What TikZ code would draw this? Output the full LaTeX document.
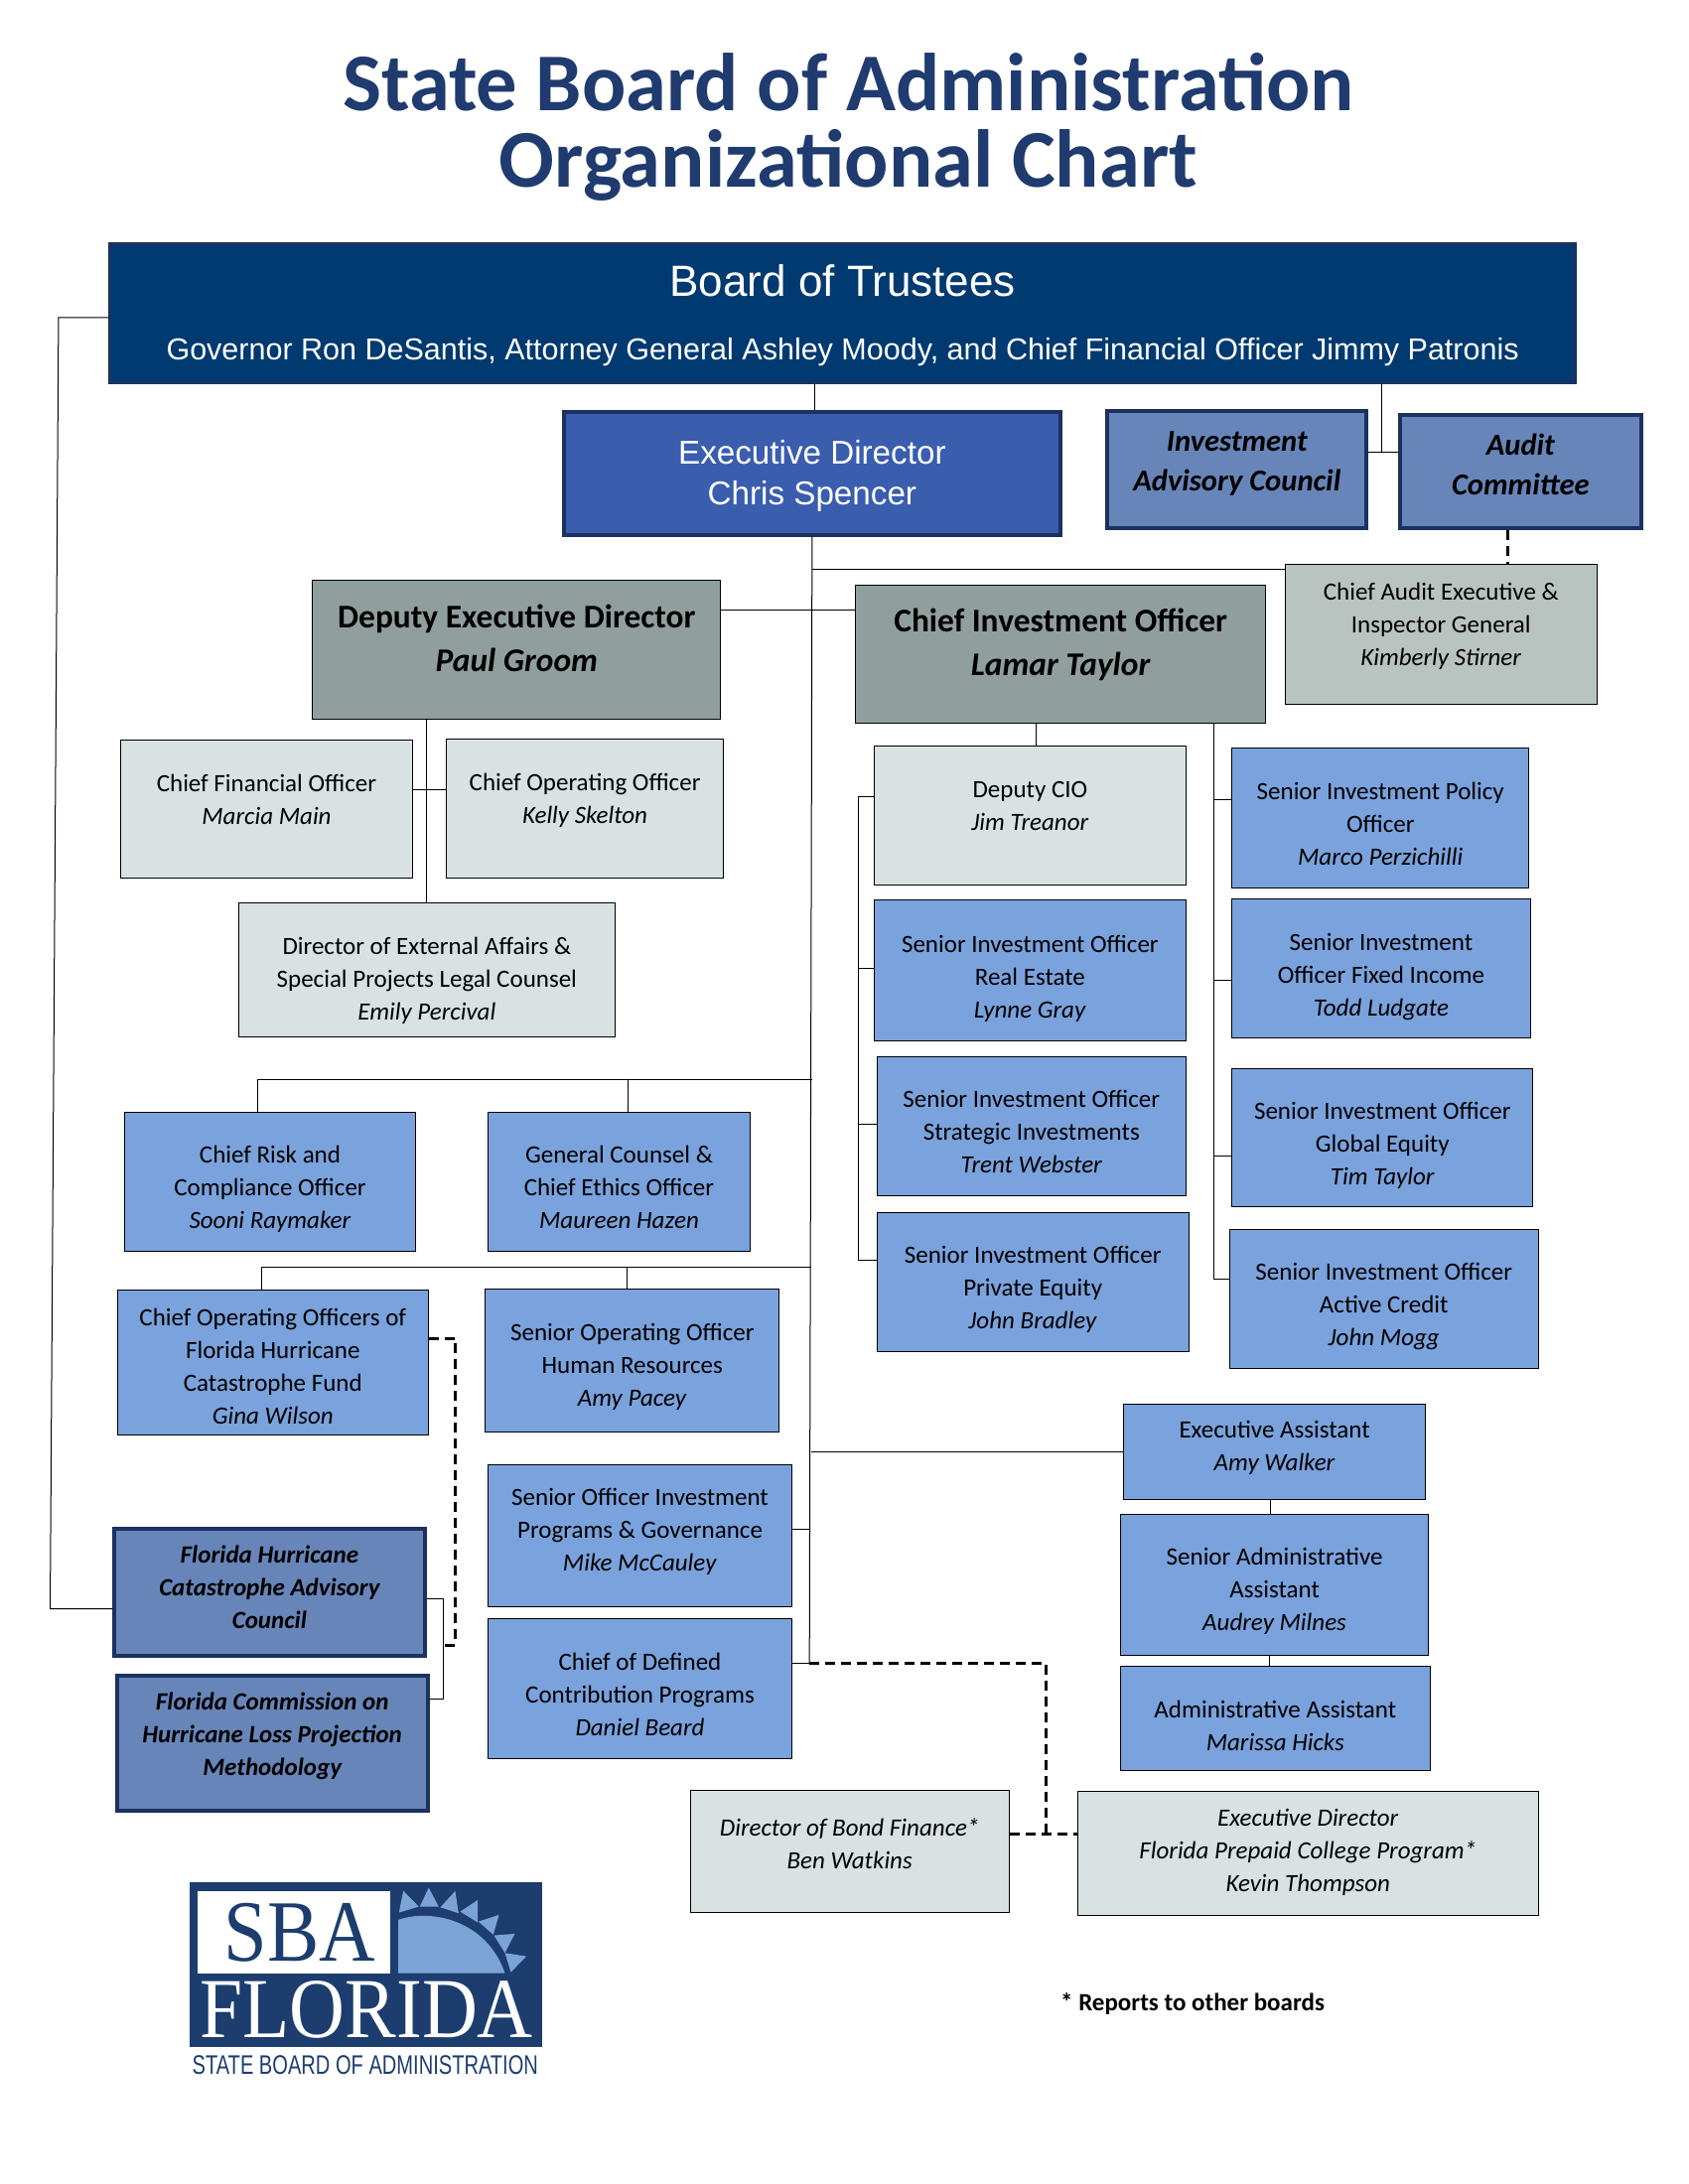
\documentclass[tikz,border=0pt]{standalone}
\usepackage{fontspec}
\usepackage{xcolor}
\setmainfont{Carlito}
\newfontfamily\arialfont{Liberation Sans}
\newfontfamily\logofont{Liberation Serif}
\definecolor{navy}{HTML}{003A70}
\definecolor{edgenavy}{HTML}{1B3160}
\definecolor{titleblue}{HTML}{1F3B6F}
\definecolor{execblue}{HTML}{3A5DAE}
\definecolor{steelblue}{HTML}{6785B8}
\definecolor{skyblue}{HTML}{7AA2DC}
\definecolor{slategrey}{HTML}{909E9E}
\definecolor{sagegrey}{HTML}{B9C3BF}
\definecolor{palegrey}{HTML}{D9E1E2}
\definecolor{logonavy}{HTML}{1C3D6E}
\definecolor{logolight}{HTML}{7BA3D6}
\newcommand{\lines}[2][0]{\raisebox{\dimexpr #1pt-.25em-0.9pt\relax}[0pt][0pt]{\begin{tabular}{@{}c@{}}#2\end{tabular}}}
\tikzset{
  sz/.style 2 args={minimum width=#1*0.7013pt, minimum height=#2*0.7013pt},
  orgbox/.style={draw=black, line width=.5pt, inner sep=0pt, anchor=north west, font=\fontsize{12.5}{16.5}\selectfont},
  bluebox/.style={orgbox, fill=skyblue},
  palebox/.style={orgbox, fill=palegrey},
  sagebox/.style={orgbox, fill=sagegrey},
  greybox/.style={orgbox, fill=slategrey, font=\fontsize{16.7}{22}\selectfont\bfseries},
  steelbox/.style={orgbox, fill=steelblue, draw=edgenavy, line width=2pt, font=\fontsize{15.3}{20}\selectfont\bfseries\itshape},
  councilbox/.style={steelbox, font=\fontsize{12.5}{16.5}\selectfont\bfseries\itshape},
  wire/.style={draw=black, line width=.5pt},
  dashwire/.style={draw=black, line width=1.5pt, dash pattern=on 5pt off 3pt}
}
\begin{document}
\begin{tikzpicture}[x=0.7013pt,y=-0.7013pt]
\useasboundingbox (0,0) rectangle (1212,1568);
\node[font=\fontsize{41.3}{38.5}\selectfont\bfseries, text=titleblue, align=center] (title) at (609,91.5) {State Board of Administration\\Organizational Chart};

\node[orgbox, fill=navy, draw=edgenavy, line width=1.2pt, sz={1052}{100}, text=white, font=\arialfont\fontsize{15.25}{32.2}\selectfont] (board) at (78,174) {\lines{{\fontsize{22}{32.2}\selectfont Board of Trustees}\\Governor Ron DeSantis, Attorney General Ashley Moody, and Chief Financial Officer Jimmy Patronis}};
\node[orgbox, fill=execblue, draw=edgenavy, line width=2pt, sz={356}{88}, text=white, font=\arialfont\fontsize{16.6}{20.3}\selectfont] (execdir) at (403.5,294.5) {\lines[-0.7]{Executive Director\\Chris Spencer}};
\node[steelbox, sz={186}{84}] (iac) at (793.5,293.5) {\lines[4.3]{Investment\\Advisory Council}};
\node[steelbox, sz={173}{81}] (audit) at (1003.5,296.5) {\lines[3.3]{Audit\\Committee}};
\node[sagebox, sz={224}{100}] (cae) at (922,405) {\lines[5]{Chief Audit Executive \&\\Inspector General\\\textit{Kimberly Stirner}}};
\node[greybox, sz={293}{100}] (deputy) at (224,416) {\lines[5]{Deputy Executive Director\\\textit{Paul Groom}}};
\node[greybox, sz={294}{99}] (cio) at (614,420) {\lines[5.6]{Chief Investment Officer\\\textit{Lamar Taylor}}};

\node[palebox, sz={210}{99}] (cfo) at (86,531) {\lines[5]{Chief Financial Officer\\\textit{Marcia Main}}};
\node[palebox, sz={199}{100}] (coo) at (320,530) {\lines[5]{Chief Operating Officer\\\textit{Kelly Skelton}}};
\node[palebox, sz={270}{96}] (dirext) at (171,648) {\lines[-4.5]{Director of External Affairs \&\\Special Projects Legal Counsel\\\textit{Emily Percival}}};

\node[palebox, sz={224}{100}] (depcio) at (627,535) {\lines[5]{Deputy CIO\\\textit{Jim Treanor}}};
\node[bluebox, sz={224}{101}] (sioreal) at (627,646) {\lines[-3]{Senior Investment Officer\\Real Estate\\\textit{Lynne Gray}}};
\node[bluebox, sz={222}{100}] (siostrat) at (629,758) {\lines[-3]{Senior Investment Officer\\Strategic Investments\\\textit{Trent Webster}}};
\node[bluebox, sz={224}{100}] (siopriv) at (629,870) {\lines[-3]{Senior Investment Officer\\Private Equity\\\textit{John Bradley}}};
\node[bluebox, sz={213}{100}] (sipo) at (884,537) {\lines[-3]{Senior Investment Policy\\Officer\\\textit{Marco Perzichilli}}};
\node[bluebox, sz={214}{100}] (siofixed) at (884,645) {\lines[-3]{Senior Investment\\Officer Fixed Income\\\textit{Todd Ludgate}}};
\node[bluebox, sz={216}{99}] (sioglobal) at (884,767) {\lines[-3]{Senior Investment Officer\\Global Equity\\\textit{Tim Taylor}}};
\node[bluebox, sz={222}{100}] (siocredit) at (882,882) {\lines[-3]{Senior Investment Officer\\Active Credit\\\textit{John Mogg}}};

\node[bluebox, sz={209}{100}] (risk) at (89,798) {\lines[-3]{Chief Risk and\\Compliance Officer\\\textit{Sooni Raymaker}}};
\node[bluebox, sz={188}{100}] (counsel) at (350,798) {\lines[-3]{General Counsel \&\\Chief Ethics Officer\\\textit{Maureen Hazen}}};
\node[bluebox, sz={223}{104}] (fundcoo) at (84,926) {\lines[-2]{Chief Operating Officers of\\Florida Hurricane\\Catastrophe Fund\\\textit{Gina Wilson}}};
\node[bluebox, sz={211}{103}] (hrsoo) at (348,925) {\lines[-2]{Senior Operating Officer\\Human Resources\\\textit{Amy Pacey}}};
\node[bluebox, sz={218}{102}] (programs) at (350,1051) {\lines[3]{Senior Officer Investment\\Programs \& Governance\\\textit{Mike McCauley}}};
\node[bluebox, sz={218}{100}] (defined) at (350,1162) {\lines[-3]{Chief of Defined\\Contribution Programs\\\textit{Daniel Beard}}};
\node[councilbox, sz={223}{91}] (fhcac) at (80.5,1096.5) {\lines[2.7]{Florida Hurricane\\Catastrophe Advisory\\Council}};
\node[councilbox, sz={223}{97}] (fchlpm) at (82.5,1201.5) {\lines[4.7]{Florida Commission on\\Hurricane Loss Projection\\Methodology}};

\node[bluebox, sz={217}{68}] (execasst) at (806,1008) {\lines[3]{Executive Assistant\\\textit{Amy Walker}}};
\node[bluebox, sz={221}{101}] (srasst) at (804,1087) {\lines[-2]{Senior Administrative\\Assistant\\\textit{Audrey Milnes}}};
\node[bluebox, sz={222}{75}] (adminasst) at (804,1196) {\lines[-3.5]{Administrative Assistant\\\textit{Marissa Hicks}}};
\node[palebox, sz={229}{88}] (bondfin) at (495,1285) {\lines[4]{\textit{Director of Bond Finance*}\\\textit{Ben Watkins}}};
\node[palebox, sz={331}{89}] (prepaid) at (773,1286) {\lines[1.5]{\textit{Executive Director}\\\textit{Florida Prepaid College Program*}\\\textit{Kevin Thompson}}};
\node[font=\fontsize{12.5}{16}\selectfont\bfseries, anchor=west, inner sep=0pt] (note) at (761,1438.5) {* Reports to other boards};

\coordinate (boardleft) at (42,228);
\coordinate (councilleft) at (36,1155);
\coordinate (boardtop) at (585,276);
\coordinate (auditjoin) at (992,325);
\coordinate (auditdash) at (1082,380);
\coordinate (trunkcae) at (583,409);
\coordinate (deputyjoin) at (566,438);
\coordinate (deputyleg) at (306,516);
\coordinate (deputyarm) at (306,567);
\coordinate (trunkrisk) at (583,775);
\coordinate (riskleg) at (185,775);
\coordinate (counselleg) at (451,775);
\coordinate (trunkfund) at (582,910);
\coordinate (fundleg) at (188,910);
\coordinate (hrleg) at (450,910);
\coordinate (trunkasst) at (582,1042);
\coordinate (trunkprog) at (581,1098);
\coordinate (trunkend) at (581,1194);
\coordinate (cioleg) at (744,519);
\coordinate (rightbus) at (871,519);
\coordinate (leftbus) at (616,572);
\coordinate (bonddrop) at (751,1194);
\coordinate (bondjoin) at (751,1317);
\coordinate (funddash) at (327,961);
\coordinate (funddown) at (327,1181);
\coordinate (fundend) at (318,1181);
\coordinate (bracktop) at (318,1148);
\coordinate (brackbot) at (318,1220);

\draw[wire] (boardleft -| board.west) -- (boardleft) -- (councilleft) -- (councilleft -| fhcac.west);
\draw[wire] (boardtop) -- (boardtop |- execdir.north);
\draw[wire] (auditjoin |- board.south) -- (auditjoin);
\draw[wire] (auditjoin -| iac.east) -- (auditjoin -| audit.west);
\draw[dashwire] (auditdash |- audit.south) -- (auditdash |- cae.north);
\draw[wire] (execdir.south) -- (trunkend);
\draw[wire] (trunkcae) -- (trunkcae -| cae.west);
\draw[wire] (deputyjoin -| deputy.east) -- (deputyjoin -| cio.west);
\draw[wire] (deputyleg) -- (deputyleg |- dirext.north);
\draw[wire] (deputyarm -| cfo.east) -- (deputyarm -| coo.west);
\draw[wire] (trunkrisk) -- (riskleg) -- (riskleg |- risk.north);
\draw[wire] (counselleg) -- (counselleg |- counsel.north);
\draw[wire] (trunkfund) -- (fundleg) -- (fundleg |- fundcoo.north);
\draw[wire] (hrleg) -- (hrleg |- hrsoo.north);
\draw[wire] (trunkasst) -- (trunkasst -| execasst.west);
\draw[wire] (trunkprog -| programs.east) -- (trunkprog);
\draw[wire] (trunkend -| defined.east) -- (trunkend);
\draw[wire] (cioleg) -- (cioleg |- depcio.north);
\draw[wire] (rightbus) -- (871,918) -- (871,918 -| siocredit.west);
\draw[wire] (871,574) -- (871,574 -| sipo.west);
\draw[wire] (871,704) -- (871,704 -| siofixed.west);
\draw[wire] (871,830) -- (871,830 -| sioglobal.west);
\draw[wire] (leftbus -| depcio.west) -- (leftbus) -- (616,905) -- (616,905 -| siopriv.west);
\draw[wire] (616,695) -- (616,695 -| sioreal.west);
\draw[wire] (616,807) -- (616,807 -| siostrat.west);
\draw[wire] (912,1076) -- (912,1076 |- srasst.north);
\draw[wire] (911,1188) -- (911,1188 |- adminasst.north);
\draw[wire] (bracktop -| fhcac.east) -- (bracktop) -- (brackbot) -- (brackbot -| fchlpm.east);
\draw[dashwire] (funddash -| fundcoo.east) -- (funddash) -- (funddown) -- (fundend);
\draw[dashwire] (trunkend) -- (bonddrop) -- (bondjoin);
\draw[dashwire] (bondjoin -| bondfin.east) -- (bondjoin -| prepaid.west);

\begin{scope}[shift={(71.3,1212)},x=0.16666pt,y=-0.16666pt]
  \fill[logonavy] (273,587) rectangle (1337,1083);
  \fill[white] (297,612) rectangle (879,861);
  \fill[logolight] (903,861) -- (903,700) .. controls (1000,665) and (1170,700) .. (1225,861) -- cycle;
  \foreach \ax/\ay/\bx/\by/\cx/\cy in {905/678/918/612/965/660, 968/660/995/603/1025/660, 1030/662/1075/613/1085/680, 1090/675/1143/640/1143/708, 1145/705/1207/685/1190/745, 1192/747/1255/742/1225/800, 1225/800/1290/810/1243/858}
    \fill[logolight] (\ax,\ay) -- (\bx,\by) -- (\cx,\cy) -- cycle;
  \node[anchor=base, inner sep=0pt, text=logonavy, font=\logofont\fontsize{44}{44}\selectfont, xscale=.89, transform shape] (logosba) at (605,825) {SBA};
  \node[anchor=base, inner sep=0pt, text=white, font=\logofont\fontsize{43}{43}\selectfont, xscale=.9, transform shape] (logoflorida) at (807,1055) {FLORIDA};
  \node[anchor=base, inner sep=0pt, text=logonavy, font=\arialfont\fontsize{13.5}{13.5}\selectfont, xscale=.744, transform shape] (logostate) at (803,1168) {STATE BOARD OF ADMINISTRATION};
\end{scope}
\end{tikzpicture}
\end{document}
